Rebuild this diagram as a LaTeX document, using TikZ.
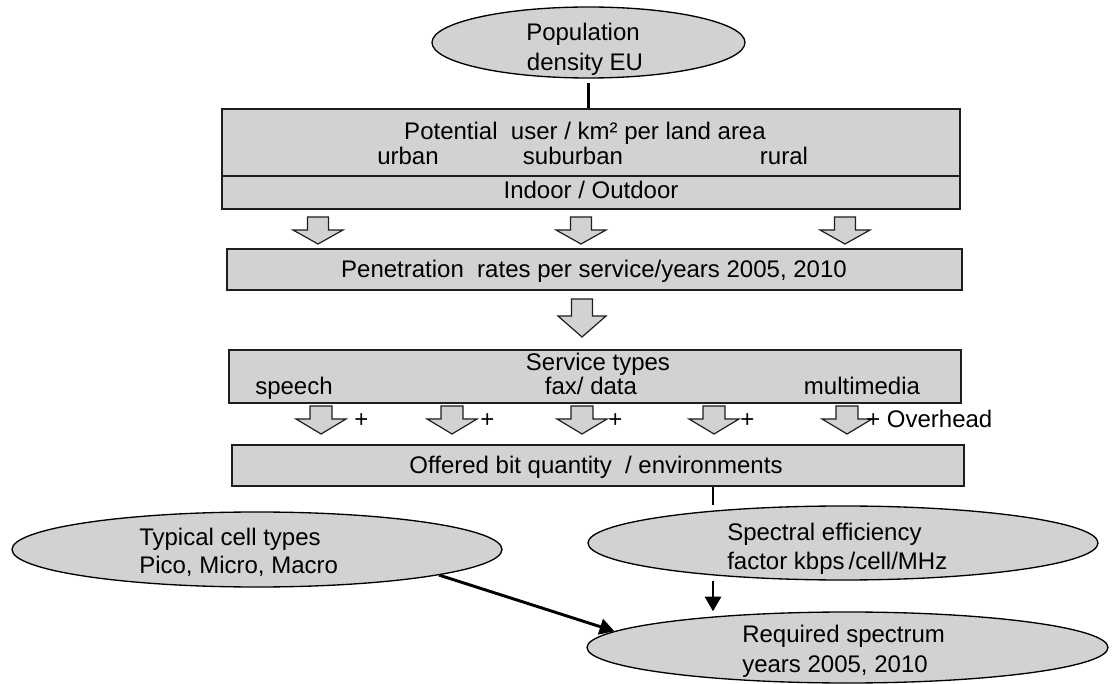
\documentclass[tikz,border=0pt]{standalone}
\usepackage{fontspec}
\setmainfont{Liberation Sans}
\usetikzlibrary{shapes.geometric,arrows.meta}
\definecolor{boxfill}{RGB}{210,210,210}
\definecolor{edge}{RGB}{30,30,30}
\begin{document}
\begin{tikzpicture}[x=0.75pt,y=-0.75pt,
  font=\fontsize{18pt}{21.6pt}\selectfont,
  stagebox/.style={draw=edge,line width=1.3pt,fill=boxfill,inner sep=0pt},
  oval/.style={ellipse,draw=black,line width=1pt,fill=boxfill,inner sep=0pt},
  txt/.style={inner sep=0pt,anchor=base},
  ltxt/.style={inner sep=0pt,anchor=base west},
  link/.style={line width=2.2pt,draw=black},
  flow/.style={line width=2.2pt,draw=black,-{Triangle[length=11pt,width=12pt]}},
  pics/blockarrow/.style n args={4}{code={
    \draw[draw=edge,line width=0.9pt,fill=boxfill,line join=miter]
      (-#1,0) -- (#1,0) -- (#1,#2) -- (#3,#2) -- (0,#2+#4)
      -- (-#3,#2) -- (-#1,#2) -- cycle;}}
]
\useasboundingbox (0,0) rectangle (1115,684);

% population source
\node[oval,minimum width=234.75pt,minimum height=53.25pt] (pop) at (588.5,42.5) {};
\node[txt] (poptxt1) at (583,41) {Population};
\node[txt] (poptxt2) at (585,71) {density EU};

% user density per land area
\node[stagebox,minimum width=553.5pt,minimum height=75pt] (users) at (591,159) {};
\draw[draw=edge,line width=1pt] (users.west |- 0,176) -- (users.east |- 0,176);
\node[txt] (userstitle) at (585,140) {Potential\ \ user / km² per land area};
\node[txt] (urban) at (408,165) {urban};
\node[txt] (suburban) at (573,165) {suburban};
\node[txt] (rural) at (784,165) {rural};
\node[txt] (inout) at (591,199) {Indoor / Outdoor};

\pic at (318,217) {blockarrow={10.5}{13}{25}{14}};
\pic at (581,217) {blockarrow={10.5}{13}{25}{14}};
\pic at (845,217) {blockarrow={10.5}{13}{25}{14}};

% penetration rates
\node[stagebox,minimum width=551.25pt,minimum height=30.75pt] (pen) at (594.5,269.5) {};
\node[txt] (pentxt) at (594,278) {Penetration\ \ rates per service/years 2005, 2010};

\pic at (582,299) {blockarrow={10.5}{17}{24}{21}};

% service types
\node[stagebox,minimum width=549pt,minimum height=39.75pt] (serv) at (595,376.5) {};
\node[txt] (servtitle) at (598,371) {Service types};
\node[ltxt] (speech) at (255,395) {speech};
\node[txt] (fax) at (591,395) {fax/ data};
\node[txt] (mm) at (862,395) {multimedia};

\foreach \ax/\px in {321/354, 452/480, 582/608, 714/740}{
  \pic at (\ax,406) {blockarrow={11}{13}{25}{15}};
  \node[ltxt] at (\px,428) {+};
}
\pic at (847,406) {blockarrow={11}{13}{25}{15}};
\node[ltxt] (overhead) at (866,428) {+ Overhead};

% offered bit quantity
\node[stagebox,minimum width=549pt,minimum height=30.75pt] (offer) at (598,465.5) {};
\node[txt] (offertxt) at (596,474) {Offered bit quantity\ \ / environments};

% cell types, spectral efficiency, result
\node[oval,minimum width=367.5pt,minimum height=56.25pt] (typ) at (257,549.5) {};
\node[ltxt] (typtxt1) at (139,545) {Typical cell types};
\node[ltxt] (typtxt2) at (139,573) {Pico, Micro, Macro};

\node[oval,minimum width=382.5pt,minimum height=55.5pt] (spec) at (843,543) {};
\node[ltxt] (spectxt1) at (727,540) {Spectral efficiency};
\node[ltxt] (spectxt2) at (727,569) {factor kbps\thinspace/cell/MHz};

\node[oval,minimum width=390.75pt,minimum height=53.25pt] (req) at (847.5,647.5) {};
\node[ltxt] (reqtxt1) at (742,642) {Required spectrum};
\node[ltxt] (reqtxt2) at (742,672) {years 2005, 2010};

% connectors
\coordinate (tap) at (713,0);
\draw[link,shorten <=3.5pt] (pop.south) -- (users.north -| pop.south);
\draw[link] (offer.south -| tap) -- (spec.north -| tap);
\draw[flow] (spec.south -| tap) -- (req.north -| tap);
\draw[flow] (typ.-8) -- (req.176);
\end{tikzpicture}
\end{document}
